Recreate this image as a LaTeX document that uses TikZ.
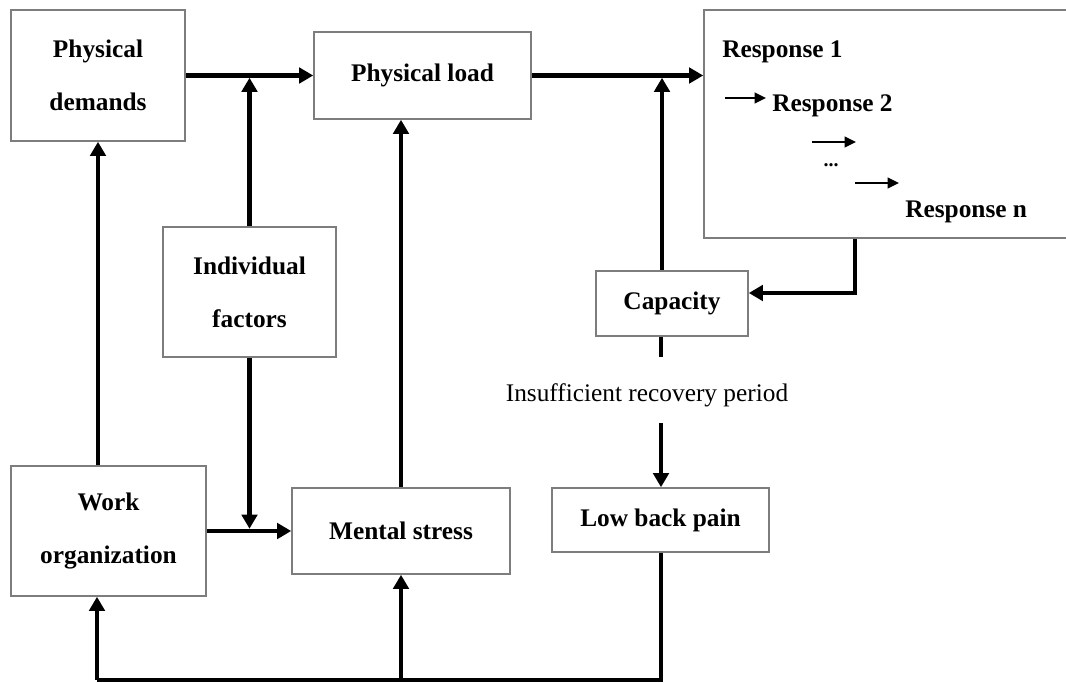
\documentclass[tikz,border=0pt]{standalone}
\usepackage{fontspec}
\setmainfont{Liberation Serif}
\usetikzlibrary{arrows.meta}
\definecolor{boxgray}{RGB}{125,125,125}
\begin{document}
\begin{tikzpicture}[x=0.75pt,y=-0.75pt,
  box/.style={draw=boxgray, line width=1.2pt, fill=white, inner sep=0pt, align=center,
              font=\bfseries\fontsize{19}{39.75}\selectfont},
  conn/.style={line width=3.6pt},
  arr/.style={conn, -{Triangle[length=10.5pt,width=11.5pt]}},
  smallarr/.style={line width=1.4pt, -{Triangle[length=8.5pt,width=8pt]}},
  rtext/.style={font=\bfseries\fontsize{19}{23}\selectfont, inner sep=0pt, anchor=west},
  plain/.style={font=\fontsize{19}{23}\selectfont, inner sep=0pt}]
\clip (0,0) rectangle (1066,682);
\fill[white] (0,0) rectangle (1066,682);

% boxes
\node[box, minimum width=130.5pt, minimum height=98.25pt] (PD) at (98,75.5) {Physical\\demands};
\node[box, minimum width=162.75pt, minimum height=65.25pt] (PL) at (422.5,75.5) {Physical load};
\node[box, minimum width=285pt, minimum height=171pt] (Resp) at (894,124) {};
\node[box, minimum width=129.75pt, minimum height=97.5pt] (IF) at (249.5,292) {Individual\\factors};
\node[box, minimum width=146.25pt, minimum height=97.5pt] (WO) at (108.5,531) {Work\\organization};
\node[box, minimum width=163.5pt, minimum height=64.5pt] (MS) at (401,531) {Mental stress};
\node[box, minimum width=114pt, minimum height=48.75pt] (Cap) at (672,303.5) {Capacity};
\node[box, minimum width=162.75pt, minimum height=48pt] (LBP) at (660.5,520) {Low back pain};

% response texts
\node[rtext] (r1) at (722,52) {Response 1};
\node[rtext] (r2) at (772,106) {Response 2};
\node[font=\bfseries\fontsize{15}{18}\selectfont, inner sep=0pt, anchor=base] (dots) at (831,166) {...};
\node[rtext] (rn) at (905,212) {Response n};
\coordinate (a1s) at (725,98);  \coordinate (a1e) at (766,98);
\coordinate (a2s) at (812,142); \coordinate (a2e) at (856,142);
\coordinate (a3s) at (855,183); \coordinate (a3e) at (899,183);
\draw[smallarr] (a1s) -- (a1e);
\draw[smallarr] (a2s) -- (a2e);
\draw[smallarr] (a3s) -- (a3e);

% label
\node[plain] (ins) at (647,395) {Insufficient recovery period};

% helper coordinates
\coordinate (j1) at (249.5,75.5);
\coordinate (j2) at (662,75.5);
\coordinate (b1) at (855,293);
\coordinate (cx) at (661,357);
\coordinate (c3) at (661,423);
\coordinate (bl) at (97,680);
\coordinate (br) at (661,680);
\coordinate (j3) at (249.5,531);

% connectors
\draw[arr] (PD.east) -- (PL.west);
\draw[arr, shorten >=1.7pt] (IF.north) -- (j1);
\draw[arr] (PL.east) -- (PL.east -| Resp.west);
\draw[arr, shorten >=1.7pt] (j2 |- Cap.north) -- (j2);
\draw[arr] (b1 |- Resp.south) -- (b1) -- (b1 -| Cap.east);
\draw[conn] (Cap.south -| cx) -- (cx);
\draw[arr] (c3) -- (c3 |- LBP.north);
\draw[arr] (PD.south |- WO.north) -- (PD.south);
\draw[arr] (WO.east) -- (MS.west);
\draw[arr, shorten >=1.7pt] (IF.south) -- (j3);
\draw[arr] (MS.north) -- (MS.north |- PL.south);
\draw[conn] (LBP.south -| br) -- (br) -- (bl);
\draw[arr] (bl) -- (bl |- WO.south);
\draw[arr] (MS.south |- bl) -- (MS.south);
\end{tikzpicture}
\end{document}
